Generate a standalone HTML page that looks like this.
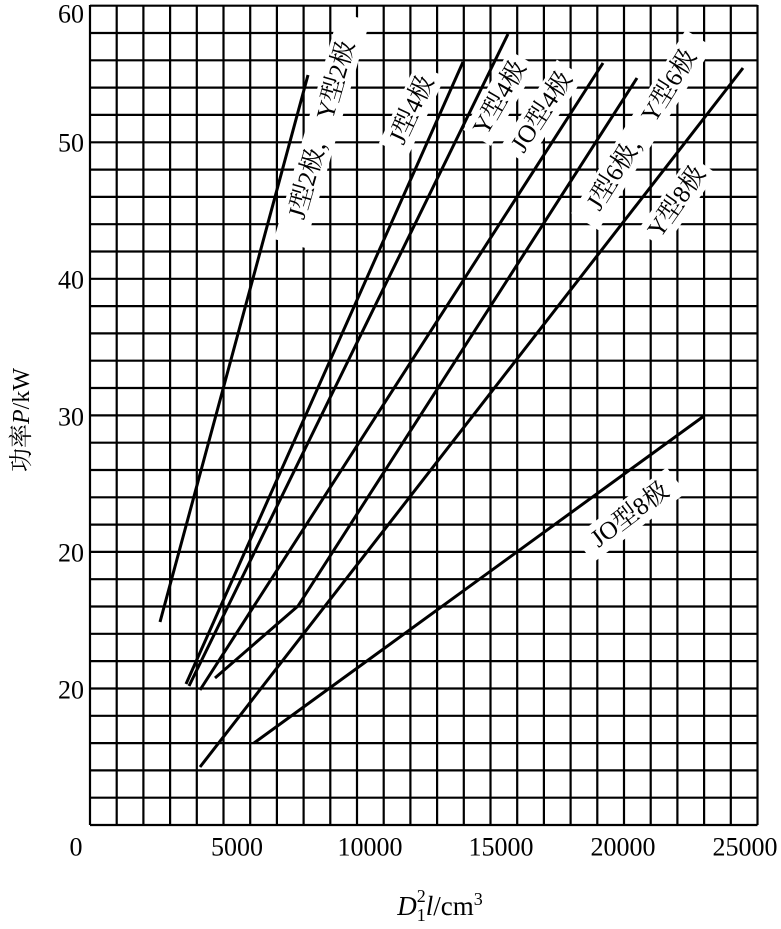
<!DOCTYPE html>
<html><head><meta charset="utf-8"><style>
html,body{margin:0;padding:0;background:#fff}
svg text{font-family:"Liberation Serif","Noto Serif CJK SC",serif;fill:#000}
</style></head><body>
<svg width="781" height="924" viewBox="0 0 781 924" xmlns="http://www.w3.org/2000/svg">
<path stroke="#000" stroke-width="2.2" fill="none" d="
M90 5V825M116.7 5V825M143.4 5V825M170.1 5V825M196.8 5V825M223.5 5V825M250.2 5V825M276.9 5V825M303.6 5V825M330.3 5V825M357 5V825M383.7 5V825M410.4 5V825M437.1 5V825M463.8 5V825M490.5 5V825M517.2 5V825M543.9 5V825M570.6 5V825M597.3 5V825M624 5V825M650.7 5V825M677.4 5V825M704.1 5V825M730.8 5V825M757.5 5V825
M90 5.7H757.5M90 33H757.5M90 60.3H757.5M90 87.6H757.5M90 114.9H757.5M90 142.3H757.5M90 169.6H757.5M90 196.9H757.5M90 224.2H757.5M90 251.5H757.5M90 278.8H757.5M90 306.1H757.5M90 333.4H757.5M90 360.7H757.5M90 388H757.5M90 415.4H757.5M90 442.7H757.5M90 470H757.5M90 497.3H757.5M90 524.6H757.5M90 551.9H757.5M90 579.2H757.5M90 606.5H757.5M90 633.8H757.5M90 661.1H757.5M90 688.5H757.5M90 715.8H757.5M90 743.1H757.5M90 770.4H757.5M90 797.7H757.5M90 825H757.5"/>
<g stroke="#000" stroke-width="3" fill="none">
<line x1="160" y1="622" x2="308" y2="75"/>
<line x1="186" y1="684" x2="463" y2="62"/>
<line x1="189" y1="686" x2="508" y2="34"/>
<line x1="200" y1="690" x2="603" y2="63"/>
<polyline points="215,678 298,606 637,78"/>
<line x1="200" y1="767" x2="743" y2="68"/>
<line x1="254" y1="743" x2="704" y2="416"/>
</g>
<g font-size="25" text-anchor="middle" dominant-baseline="central">
<g transform="translate(322,130) rotate(-74)"><rect x="-118" y="-16" width="236" height="32" fill="#fff"/><text>J型2极， Y型2极</text></g>
<g transform="translate(412,110) rotate(-65)"><rect x="-44" y="-16" width="88" height="32" fill="#fff"/><text>J型4极</text></g>
<g transform="translate(500,98) rotate(-60)"><rect x="-46" y="-16" width="92" height="32" fill="#fff"/><text>Y型4极</text></g>
<g transform="translate(542,112) rotate(-57)"><rect x="-52" y="-16" width="104" height="32" fill="#fff"/><text>JO型4极</text></g>
<g transform="translate(642,130) rotate(-58)"><rect x="-108" y="-16" width="216" height="32" fill="#fff"/><text>J型6极， Y型6极</text></g>
<g transform="translate(677,202) rotate(-55)"><rect x="-46" y="-16" width="92" height="32" fill="#fff"/><text>Y型8极</text></g>
<g transform="translate(630,515) rotate(-37)"><rect x="-58" y="-16" width="116" height="32" fill="#fff"/><text>JO型8极</text></g>
</g>
<g font-size="26" text-anchor="end" dominant-baseline="central">
<text x="84" y="14">60</text><text x="84" y="143">50</text><text x="84" y="280">40</text>
<text x="84" y="417">30</text><text x="84" y="553">20</text><text x="84" y="690">20</text>
</g>
<g font-size="26" text-anchor="middle" dominant-baseline="central">
<text x="76" y="847">0</text><text x="237" y="847">5000</text><text x="370" y="847">10000</text>
<text x="501" y="847">15000</text><text x="623" y="847">20000</text><text x="745" y="847">25000</text>
</g>
<text x="440" y="915" font-size="27" text-anchor="middle"><tspan font-style="italic">D</tspan><tspan font-size="18" dy="6">1</tspan><tspan font-size="18" dx="-9" dy="-19">2</tspan><tspan font-style="italic" dy="13">l</tspan>/cm<tspan font-size="18" dy="-10">3</tspan></text>
<text transform="translate(22,420) rotate(-90)" font-size="24" text-anchor="middle" dominant-baseline="central">功率<tspan font-style="italic">P</tspan>/kW</text>
</svg>
</body></html>
